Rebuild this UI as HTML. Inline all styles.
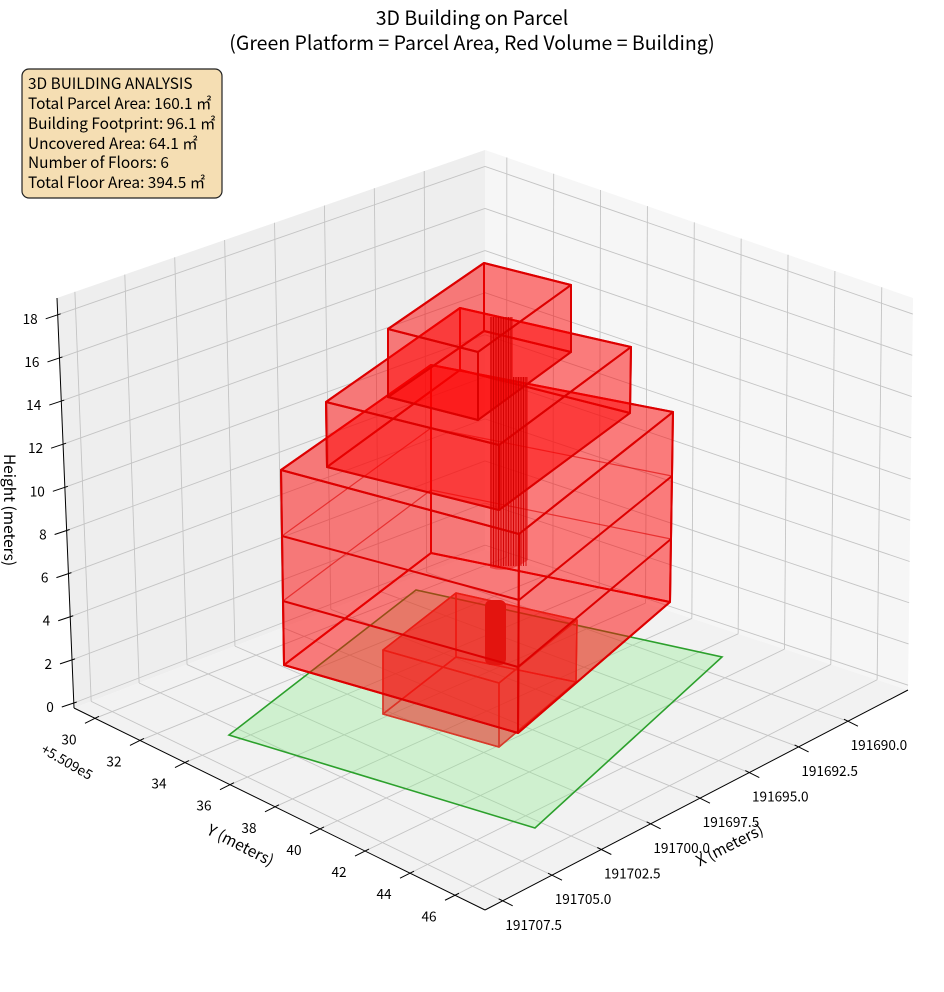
<!DOCTYPE html>
<html><head><meta charset="utf-8"><style>
html,body{margin:0;padding:0;background:#fff;}
svg{display:block;font-family:"Noto Sans CJK JP","Liberation Sans",sans-serif;}
</style></head><body>
<svg id="s" width="944" height="992" viewBox="0 0 944 992" xmlns="http://www.w3.org/2000/svg">
<g id="panes">
<polygon points="57,298 485,150 485,550 74,708" fill="#eeeeee"/>
<polygon points="485,150 913,298 908,690 485,550" fill="#f6f6f6"/>
<polygon points="74,708 485,550 908,690 485,910" fill="#f2f2f2"/>
</g>
<g id="grid" stroke="#c4c4c4" stroke-width="0.9" fill="none"></g>
<g id="axes" stroke="#000" stroke-width="1" fill="none"></g>
<g id="labels" font-size="13.6" fill="#000"></g>

<polygon points="229,735 416,590 722,657 535,828" fill="rgba(144,238,144,0.35)" stroke="#2ca02c" stroke-width="1.6"/>

<g id="bld"></g>

<text x="472" y="25" font-size="19.5" text-anchor="middle">3D Building on Parcel</text>
<text x="472" y="50" font-size="19.5" text-anchor="middle">(Green Platform = Parcel Area, Red Volume = Building)</text>
<rect x="22" y="69" width="200" height="129" rx="7" fill="#f5deb3" stroke="#222" stroke-width="1.2"/>
<g font-size="15.4">
<text x="28" y="89">3D BUILDING ANALYSIS</text>
<text x="28" y="109">Total Parcel Area: 160.1 ㎡</text>
<text x="28" y="129">Building Footprint: 96.1 ㎡</text>
<text x="28" y="149">Uncovered Area: 64.1 ㎡</text>
<text x="28" y="168">Number of Floors: 6</text>
<text x="28" y="188">Total Floor Area: 394.5 ㎡</text>
</g>
<text font-size="15.5" transform="translate(4,510) rotate(90)" text-anchor="middle">Height (meters)</text>
<text font-size="15.5" transform="translate(238,850) rotate(27)" text-anchor="middle">Y (meters)</text>
<text font-size="15.5" transform="translate(732,850) rotate(-27)" text-anchor="middle">X (meters)</text>
<text font-size="13.6" transform="translate(40,752) rotate(30)">+5.509e5</text>
</svg>
<script>
const NS="http://www.w3.org/2000/svg";
function el(p,t,a,txt){const e=document.createElementNS(NS,t);for(const k in a)e.setAttribute(k,a[k]);if(txt!==undefined)e.textContent=txt;document.getElementById(p).appendChild(e);return e;}
function L(a,b,t){return [a[0]+(b[0]-a[0])*t,a[1]+(b[1]-a[1])*t];}
const LT=[57,298],BT=[485,150],RT=[913,298],LB=[74,708],BB=[485,550],RB=[908,690],F=[485,910];
function line(p,a,b,extra){el(p,'line',Object.assign({x1:a[0],y1:a[1],x2:b[0],y2:b[1]},extra||{}));}
const zs=[];for(let z=0;z<=18;z+=2)zs.push(0.0122+z*0.0526);
const xs=[];for(let i=0;i<8;i++)xs.push(0.142+i*0.1166);
const ys=[];for(let i=0;i<9;i++)ys.push(0.051+i*0.1095);
xs.forEach(s=>line('grid',L(RB,F,s),L(BB,LB,s)));
ys.forEach(t=>line('grid',L(LB,F,t),L(BB,RB,t)));
xs.forEach(s=>line('grid',L(BB,LB,s),L(BT,LT,s)));
zs.forEach(w=>line('grid',L(LB,LT,w),L(BB,BT,w)));
ys.forEach(t=>line('grid',L(BB,RB,t),L(BT,RT,t)));
zs.forEach(w=>line('grid',L(BB,BT,w),L(RB,RT,w)));
line('axes',LB,LT);line('axes',LB,F);line('axes',RB,F);
zs.forEach((w,i)=>{const p=L(LB,LT,w);line('axes',[p[0]-12,p[1]+4],[p[0]+3,p[1]-1]);
 el('labels','text',{x:p[0]-20,y:p[1]+9,'text-anchor':'end'},String(i*2));});
ys.forEach((t,i)=>{const p=L(LB,F,t);line('axes',[p[0]-10,p[1]+5],[p[0]+4,p[1]-2]);
 el('labels','text',{x:p[0]-26,y:p[1]+26,'text-anchor':'middle'},String(30+2*i));});
xs.forEach((s,i)=>{const p=L(RB,F,s);line('axes',[p[0]+10,p[1]+5],[p[0]-4,p[1]-2]);
 el('labels','text',{x:p[0]+31,y:p[1]+29,'text-anchor':'middle'},(191690+2.5*i).toFixed(1));});
function box(T,B,stroke,sw,fill){
 const faces=[[B[0],B[1],B[2],B[3]],[T[0],T[1],B[1],B[0]],[T[1],T[2],B[2],B[1]],[T[2],T[3],B[3],B[2]],[T[3],T[0],B[0],B[3]],[T[0],T[1],T[2],T[3]]];
 faces.forEach(f=>el('bld','polygon',{points:f.map(p=>p.join(',')).join(' '),fill:fill,stroke:stroke,'stroke-width':sw,'stroke-linejoin':'round'}));
}
const RF='rgba(255,0,0,0.29)';
box([[383,650],[456,593],[577,620],[499,683]],[[383,714],[456,657],[576,682],[499,747]],'#d83a2a',1.5,'rgba(230,40,30,0.33)');
el('bld','rect',{x:485,y:600,width:21,height:65,rx:6,fill:'#c92a20'});
box([[281,470],[431,365],[673,412],[519,534]],[[284,665],[431,553],[670,602],[518,733]],'#dd0000',2,RF);
[[ [282,536],[519,600],[672,476] ],[ [283,601],[518,667],[671,539] ]].forEach(d=>{
 el('bld','polyline',{points:d.map(p=>p.join(',')).join(' '),fill:'none',stroke:'#dd0000','stroke-width':2});});
el('bld','polyline',{points:'431,428 672,476',fill:'none',stroke:'#dd0000','stroke-width':1.2,opacity:0.6});
el('bld','polyline',{points:'282,536 431,428',fill:'none',stroke:'#dd0000','stroke-width':1.2,opacity:0.6});
el('bld','polyline',{points:'431,490 671,539',fill:'none',stroke:'#dd0000','stroke-width':1.2,opacity:0.6});
el('bld','polyline',{points:'283,601 431,490',fill:'none',stroke:'#dd0000','stroke-width':1.2,opacity:0.6});
box([[326,402],[460,308],[631,347],[499,445]],[[327,467],[460,370],[630,413],[499,510]],'#dd0000',2,RF);
box([[388,329],[484,263],[571,285],[478,352]],[[388,397],[484,331],[571,352],[478,420]],'#dd0000',2,RF);
el('bld','path',{d:'M490,317 L513,317 L513,377 L528,377 L528,560 Q509,574 490,568 Z',fill:'rgba(230,0,0,0.45)'});
for(let x=491;x<=527;x+=2.5){const top=x<=513?317:377;el('bld','line',{x1:x,y1:top,x2:x,y2:566,stroke:'#d00000','stroke-width':0.9});}
</script>
</body></html>
